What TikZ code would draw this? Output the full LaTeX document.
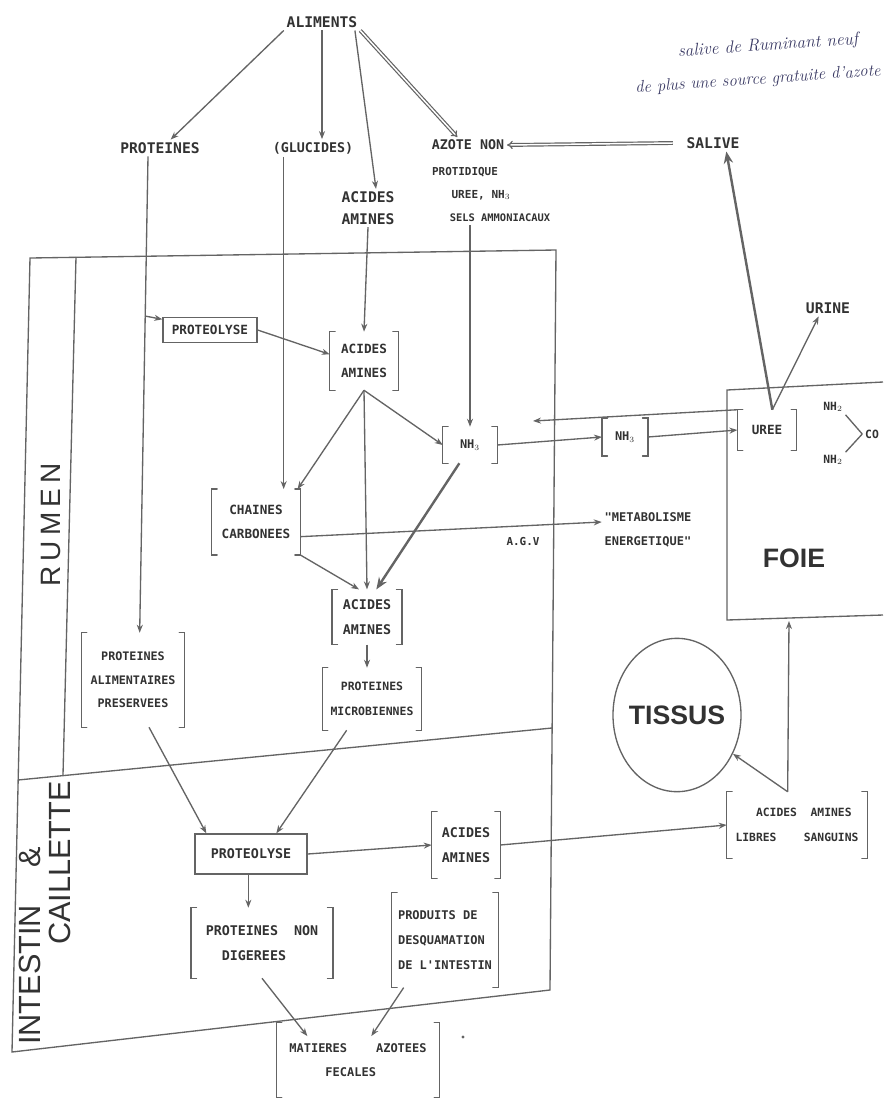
\documentclass[tikz,border=0pt]{standalone}
\usepackage{fontspec}
\usepackage{graphicx}
\usetikzlibrary{arrows.meta,calc,shapes.geometric}
\newfontfamily\twfont{DejaVu Sans Mono}
\newfontfamily\lblfont{Liberation Sans}
\newfontfamily\rumfont{Liberation Sans}[LetterSpace=18]
\definecolor{ink}{RGB}{50,50,50}
\definecolor{lne}{RGB}{100,100,100}
\definecolor{pen}{RGB}{58,58,100}
\newcommand\tw[1]{\twfont\bfseries\fontsize{#1}{18.5}\selectfont}
\newcommand\twb[2]{\twfont\bfseries\fontsize{#1}{#2}\selectfont}
\newcommand\mkbrk[1]{%
  \draw[brkln] ([xshift=4pt]#1.north west) -- (#1.north west) -- (#1.south west) -- ([xshift=4pt]#1.south west);
  \draw[brkln] ([xshift=-4pt]#1.north east) -- (#1.north east) -- (#1.south east) -- ([xshift=-4pt]#1.south east);}
\begin{document}
\begin{tikzpicture}[x=0.75pt,y=-0.75pt,
  txt/.style={text=ink, inner sep=2pt, align=center},
  bk/.style={txt, inner sep=0pt},
  bx/.style={txt, draw=lne, line width=1pt, inner sep=0pt},
  ln/.style={draw=lne, line width=1pt},
  brkln/.style={draw=lne, line width=1.1pt, line cap=round},
  arr/.style={ln, -{Stealth[length=6pt,width=4.5pt]}},
  thk/.style={draw=lne, line width=1.8pt, -{Stealth[length=9pt,width=7pt]}},
  dbl/.style={draw=lne, line width=0.9pt, double=white, double distance=1.1pt, -{Implies}},
  ]
\useasboundingbox (0,0) rectangle (883,1101);
\fill[white] (0,0) rectangle (883,1101);

% ---------- top ----------
\node[txt,font=\tw{11}] (ali) at (322,22) {ALIMENTS};
\node[txt,font=\tw{11}] (prot) at (160,148) {PROTEINES};
\node[txt,font=\tw{10}] (gluc) at (313,148) {(GLUCIDES)};
\node[txt,font=\twb{11}{16}] (aa0) at (368,208) {ACIDES\\AMINES};
\node[txt,font=\tw{10}] (az1) at (468,145) {AZOTE NON};
\node[txt,font=\tw{8.2}] (az2) at (465,172) {PROTIDIQUE};
\node[txt,font=\tw{8.3}] (az3) at (481,195) {UREE, NH$_3$};
\node[txt,font=\tw{7.8}] (az4) at (500,218) {SELS AMMONIACAUX};
\node[txt,font=\tw{11}] (sal) at (713,143) {SALIVE};
\node[txt,font=\tw{11}] (urine) at (828,308) {URINE};
\node[text=pen, inner sep=0pt, font=\itshape\fontsize{13}{15}\selectfont, rotate=4] (note1) at (768,46) {salive de Ruminant neuf};
\node[text=pen, inner sep=0pt, font=\itshape\fontsize{12.5}{15}\selectfont, rotate=4] (note2) at (758,80) {de plus une source gratuite d'azote};

% ---------- rumen / intestin frame ----------
\coordinate (rTL) at (30,258);
\coordinate (rTR) at (556,250);
\coordinate (rBR) at (550,990);
\coordinate (rBL) at (12,1052);
\draw[ln] (rTL) -- (rTR) -- (rBR) -- (rBL) -- cycle;
\coordinate (dL) at (18,780);
\coordinate (dR) at (552,728);
\draw[ln] (dL) -- (dR);
\coordinate (vT) at (76,257);
\coordinate (vB) at (63,775);
\draw[ln] (vT) -- (vB);
\node[txt, rotate=90, font=\rumfont\fontsize{21}{24}\selectfont] (lrum) at (51,525) {RUMEN};
\node[txt, rotate=90, font=\lblfont\fontsize{23}{26}\selectfont] (lint) at (30,946) {INTESTIN\hspace{28pt}\&};
\node[txt, rotate=90, font=\lblfont\fontsize{23}{26}\selectfont] (lcai) at (60,863) {CAILLETTE};

% ---------- rumen nodes ----------
\node[bx,font=\tw{9.5}, minimum width=70.5pt, minimum height=19pt] (ply1) at (210,330) {PROTEOLYSE};
\node[bk,font=\tw{9.5}, minimum width=51pt, minimum height=43.5pt] (aa1) at (364,361) {ACIDES\\AMINES};
\node[bk,font=\tw{9}, minimum width=40.5pt, minimum height=27pt] (nh3a) at (470,445) {NH$_3$};
\node[bk,font=\tw{9}, minimum width=34pt, minimum height=28pt] (nh3b) at (625,437) {NH$_3$};
\node[bk,font=\tw{9.5}, minimum width=44pt, minimum height=30pt] (uree) at (767,430) {UREE};
\node[bk,font=\tw{9.5}, minimum width=66pt, minimum height=49pt] (chc) at (256,522) {CHAINES\\CARBONEES};
\node[bk,font=\tw{10}, minimum width=52pt, minimum height=41pt] (aa2) at (367,617) {ACIDES\\AMINES};
\node[bk,font=\tw{8.6}, minimum width=74pt, minimum height=46.5pt] (pmic) at (372,699) {PROTEINES\\MICROBIENNES};
\node[bk,font=\twb{8.8}{17.5}, minimum width=77pt, minimum height=70.5pt] (palim) at (133,680) {PROTEINES\\ALIMENTAIRES\\PRESERVEES};
\node[txt,font=\tw{9}] (metab) at (648,530) {"METABOLISME\\ENERGETIQUE"};
\node[txt,font=\tw{8.2}] (agv) at (523,542) {A.G.V};

% ---------- foie ----------
\coordinate (fTR) at (883,382);
\coordinate (fTL) at (727,390);
\coordinate (fBL) at (727,620);
\coordinate (fBR) at (883,615);
\draw[ln] (fTR) -- (fTL) -- (fBL) -- (fBR);
\coordinate (fIn) at (789,621);
\node[txt,font=\lblfont\bfseries\fontsize{20}{24}\selectfont] (foie) at (794,558) {FOIE};
\node[txt,font=\tw{8.5}] (nh2a) at (833,407) {NH$_2$};
\node[txt,font=\tw{8.5}] (nh2b) at (833,460) {NH$_2$};
\node[txt,font=\tw{8.5}] (co) at (872,434) {CO};
\draw[ln] (nh2a.south east) -- (co.west);
\draw[ln] (nh2b.north east) -- (co.west);
\node[ellipse, draw=lne, line width=1pt, minimum width=96pt, minimum height=115pt, inner sep=0pt,
      label={[txt,font=\lblfont\bfseries\fontsize{20}{24}\selectfont]center:TISSUS}] (tissus) at (677,715) {};

% ---------- intestin nodes ----------
\node[bx,font=\tw{10}, minimum width=84pt, minimum height=30pt] (ply2) at (251,854) {PROTEOLYSE};
\node[bk,font=\tw{10}, minimum width=51pt, minimum height=49.5pt] (aa3) at (466,845) {ACIDES\\AMINES};
\node[bk,font=\tw{8.5}, minimum width=105pt, minimum height=49.5pt, align=left] (aals) at (797,825) {\phantom{XXX}ACIDES\phantom{XX}AMINES\\LIBRES\phantom{XXXX}SANGUINS};
\node[bk,font=\tw{10}, minimum width=106pt, minimum height=52.5pt, align=left] (pnd) at (262,943) {PROTEINES\phantom{XX}NON\\\phantom{XX}DIGEREES};
\node[bk,font=\tw{9}, minimum width=79.5pt, minimum height=71pt, align=left] (pdesq) at (445,940) {PRODUITS DE\\DESQUAMATION\\DE L'INTESTIN};
\node[bk,font=\tw{9}, minimum width=122pt, minimum height=55.5pt, align=left] (maf) at (358,1060) {MATIERES\phantom{XXXX}AZOTEES\\\phantom{XXXXX}FECALES};
\fill[lne] (463,1037) circle (1.2pt);

\foreach \n in {aa1,nh3a,nh3b,uree,chc,aa2,pmic,palim,aa3,aals,pnd,pdesq,maf} {\mkbrk{\n}}

% ---------- connectors ----------
\draw[arr] (ali.south west) -- ([xshift=8pt]prot.north);
\draw[arr] (ali.south) -- (ali.south |- gluc.north);
\draw[arr] ([xshift=-4pt]ali.south east) -- ([xshift=6pt]aa0.north);
\draw[dbl] (ali.south east) -- ([xshift=-8pt]az1.north);
\draw[dbl] ([xshift=-8pt]sal.west) -- (az1.east);

\coordinate (pr) at ([xshift=-9pt]prot.south);
\coordinate (pa) at ([xshift=5pt]palim.north);
\draw[arr] (pr) -- (pa);
\coordinate (pbr) at (145,316);
\draw[arr] (pbr) -- ([yshift=-2pt]ply1.north west);
\draw[arr] (ply1.east) -- ([yshift=5pt]aa1.west);

\coordinate (gl) at ([xshift=-22pt]gluc.south);
\draw[arr] (gl) -- (gl |- chc.north);
\draw[arr] (aa0.south) -- (aa1.north);
\draw[arr] (aa1.south) -- ([xshift=-2pt]chc.north east);
\draw[arr] (aa1.south) -- (nh3a.west);
\draw[arr] (aa1.south) -- (aa2.north);
\draw[arr, line width=1.3pt] (nh3a.north |- az4.south) -- (nh3a.north);

\draw[arr] (nh3a.east) -- (nh3b.west);
\draw[arr] (nh3b.east) -- (uree.west);
\coordinate (nhback) at (533,421);
\draw[arr] (uree.north west) -- (nhback);
\draw[thk] ([xshift=-8pt]nh3a.south) -- ([xshift=7pt]aa2.north);

\draw[arr] ([yshift=-11pt]chc.east) -- ([yshift=6pt]metab.west);
\draw[arr] (chc.south east) -- ([xshift=-6pt]aa2.north);
\draw[arr, line width=1.3pt] (aa2.south) -- (aa2.south |- pmic.north);

\draw[thk] ([xshift=4pt]uree.north) -- ([xshift=10pt]sal.south);
\draw[arr] ([xshift=4pt]uree.north) -- ([xshift=-7pt]urine.south);

\draw[arr] ([xshift=12pt]palim.south) -- ([xshift=9pt]ply2.north west);
\draw[arr] ([xshift=-19pt]pmic.south) -- ([xshift=19pt]ply2.north);
\draw[arr] (ply2.east) -- (aa3.west);
\draw[arr] (aa3.east) -- (aals.west);
\coordinate (al) at ([xshift=-7pt]aals.north);
\draw[arr] (al) -- (fIn);
\draw[arr] (al) -- (tissus);
\draw[arr] ([xshift=-2pt]ply2.south) -- ([xshift=-2pt]ply2.south |- pnd.north);
\draw[arr] (pnd.south) -- ([shift={(-38pt,-10pt)}]maf.north);
\draw[arr] ([xshift=-31pt]pdesq.south) -- ([shift={(10pt,-10pt)}]maf.north);
\end{tikzpicture}
\end{document}
